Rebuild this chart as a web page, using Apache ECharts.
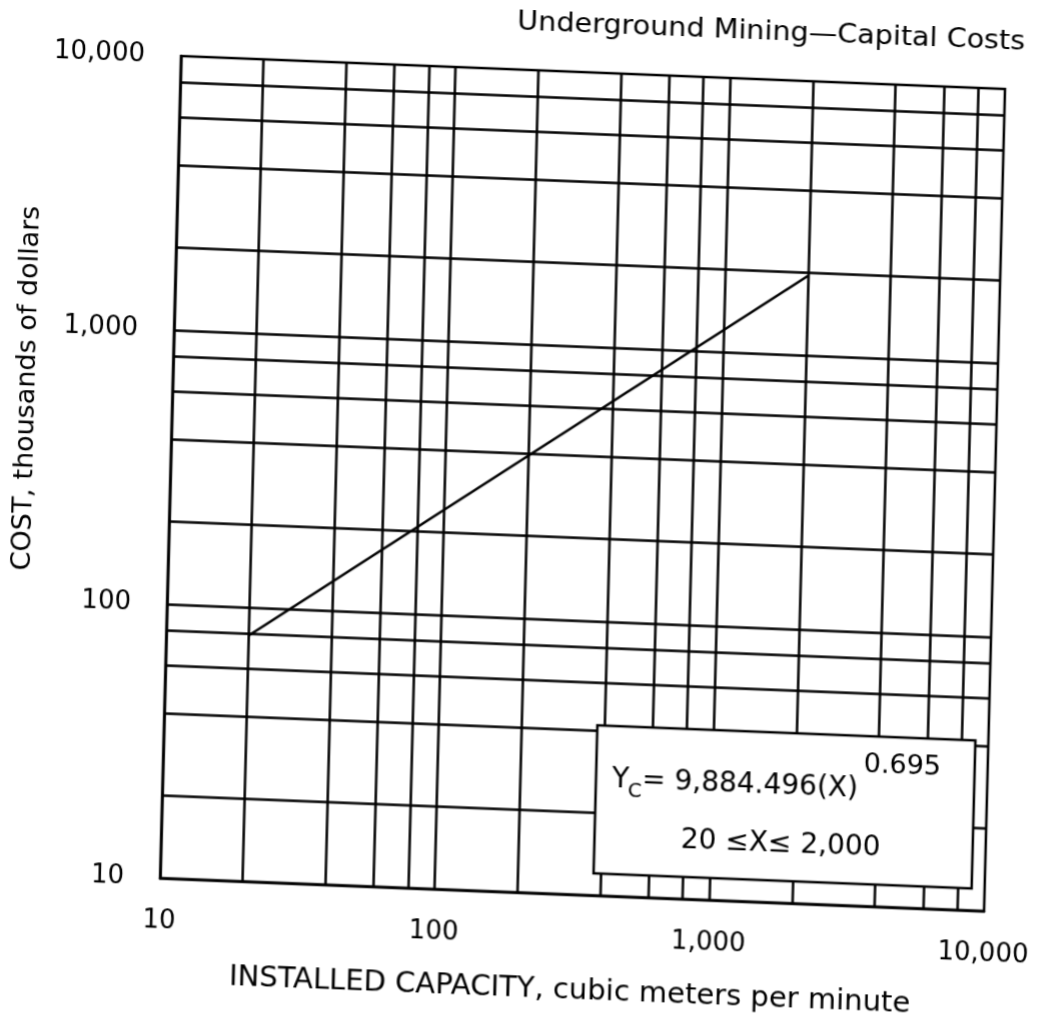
<!DOCTYPE html>
<html>
<head>
<meta charset="utf-8">
<script src="https://cdn.jsdelivr.net/npm/echarts@6/dist/echarts.min.js"></script>
<style>
html,body{margin:0;padding:0;background:#fff;overflow:hidden}
/* the scanned original is slightly skewed; reproduce that tilt */
#c{width:1051px;height:1024px;transform-origin:0 0;transform:matrix(1,0.040,-0.0255,1,12.5,-10.8)}
</style>
</head>
<body>
<div id="c"></div>
<script>
// Data
const capacity = [20, 2000];          // X, cubic meters per minute
const cost = [79, 1950];              // Y, thousands of dollars
const xGridValues = [20, 40, 60, 80, 100, 200, 400, 600, 800, 1000, 2000, 4000, 6000, 8000];
const yGridValues = [20, 40, 60, 80, 100, 200, 400, 600, 800, 1000, 2000, 4000, 6000, 8000];
const tickValues = [10, 100, 1000, 10000];
const tickLabels = ["10", "100", "1,000", "10,000"];
const titleText = "Underground Mining\u2014Capital Costs";
const xName = "INSTALLED CAPACITY, cubic meters per minute";
const yName = "COST, thousands of dollars";
const eqY = "Y", eqSub = "C", eqMain = "= 9,884.496(X)", eqExp = "0.695";
const rangeText = "20 \u2264X\u2264 2,000";

const FONT = "DejaVu Sans";
const chart = echarts.init(document.getElementById('c'), null, {renderer: 'canvas'});
const fmt = v => { const i = tickValues.indexOf(Math.round(v)); return i >= 0 ? tickLabels[i] : ''; };

const ctx = document.createElement('canvas').getContext('2d');
const tw = (t, size) => { ctx.font = size + 'px "' + FONT + '"'; return ctx.measureText(t).width; };

const gridMarks = [
  ...xGridValues.map(v => ({xAxis: v})),
  ...yGridValues.map(v => ({yAxis: v}))
];

// equation layout (annotation box)
const eqX = 619, eqCy = 766, eqSize = 28, subSize = 20, expSize = 27;
const xC = eqX + tw(eqY, eqSize) - 1;
const xMain = xC + tw(eqSub, subSize);
const xExp = xMain + tw(eqMain, eqSize) + 5;
const txt = (x, y, text, size, extra) => Object.assign({type: 'text', z: 101, x: x, y: y,
  style: {text: text, fill: '#000', font: size + 'px "' + FONT + '"', textAlign: 'left', textVerticalAlign: 'middle'}}, extra || {});

chart.setOption({
  backgroundColor: '#fff',
  animation: false,
  grid: {left: 170, right: 57, top: 60, bottom: 142, show: true, borderColor: '#000', borderWidth: 2.5, backgroundColor: 'transparent'},
  xAxis: {
    type: 'log', logBase: 10, min: 10, max: 10000,
    axisLine: {show: true, lineStyle: {color: '#000', width: 2.5}},
    axisTick: {show: false},
    splitLine: {show: false},
    axisLabel: {formatter: fmt, color: '#000', fontFamily: FONT, fontSize: 26, margin: 30},
    name: xName, nameLocation: 'middle', nameGap: 82,
    nameTextStyle: {color: '#000', fontFamily: FONT, fontSize: 29}
  },
  yAxis: {
    type: 'log', logBase: 10, min: 10, max: 10000,
    axisLine: {show: true, lineStyle: {color: '#000', width: 2.5}},
    axisTick: {show: false},
    splitLine: {show: false},
    axisLabel: {formatter: fmt, color: '#000', fontFamily: FONT, fontSize: 26, margin: 36}
  },
  series: [{
    type: 'line',
    data: capacity.map((x, i) => [x, cost[i]]),
    symbol: 'none',
    lineStyle: {color: '#000', width: 2.5},
    z: 5,
    markLine: {
      silent: true, symbol: 'none', animation: false,
      label: {show: false},
      lineStyle: {color: '#000', width: 2.5, type: 'solid'},
      emphasis: {disabled: true},
      data: gridMarks
    }
  }],
  graphic: [
    {type: 'text', x: 759, y: 13, scaleX: 1.1, style: {text: titleText, fill: '#000', font: '26px "' + FONT + '"', textAlign: 'center', textVerticalAlign: 'middle'}},
    {type: 'text', x: 25, y: 398, rotation: Math.PI / 2, style: {text: yName, fill: '#000', font: '27px "' + FONT + '"', textAlign: 'center', textVerticalAlign: 'middle'}},
    {type: 'rect', z: 100, shape: {x: 603, y: 712, width: 378, height: 148}, style: {fill: '#fff', stroke: '#000', lineWidth: 2.5}},
    txt(eqX, eqCy, eqY, eqSize),
    txt(xC, eqCy + 11, eqSub, subSize),
    txt(xMain, eqCy, eqMain, eqSize),
    txt(xExp, eqCy - 25, eqExp, expSize),
    {type: 'text', z: 101, x: 789, y: 824, style: {text: rangeText, fill: '#000', font: '28px "' + FONT + '"', textAlign: 'center', textVerticalAlign: 'middle'}}
  ]
});
</script>
</body>
</html>
